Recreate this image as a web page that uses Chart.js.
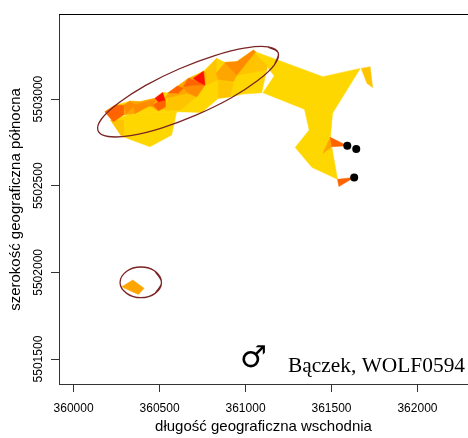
<!DOCTYPE html>
<html>
<head>
<meta charset="utf-8">
<script src="https://cdn.jsdelivr.net/npm/chart.js@4"></script>
<style>
html, body { margin: 0; padding: 0; background: #fff; overflow: hidden; }
#wrap { width: 468px; height: 438px; overflow: hidden; }
canvas { display: block; }
</style>
</head>
<body>
<!-- canvas a bit wider than the window: the x scale keeps 4px spare on the right -->
<div id="wrap"><canvas id="chart" width="472" height="438"></canvas></div>
<script>
const xTicks = [360000, 360500, 361000, 361500, 362000];
const yTicks = [5501500, 5502000, 5502500, 5503000];

// home range patches as [easting, northing]
const goldBody = [[361056,5503273],[361450,5503129],[361667,5503177],[361506,5502918],[361493,5502773],[361535,5502537],[361386,5502606],[361289,5502721],[361370,5502821],[361343,5502941],[361101,5503037],[361167,5503133],[361134,5503177]];
const goldBand = [[360182,5502927],[360241,5502965],[360328,5502988],[360386,5502985],[360473,5503004],[360518,5503038],[360551,5503036],[360603,5503071],[360667,5503119],[360755,5503161],[360832,5503235],[360881,5503211],[360949,5503215],[361046,5503283],[361123,5503196],[361123,5503167],[361094,5503036],[360987,5503029],[360910,5503013],[360842,5503004],[360745,5502923],[360599,5502927],[360347,5502917],[360289,5502908],[360231,5502869]];
const goldLobe = [[360215,5502879],[360347,5502917],[360599,5502927],[360570,5502792],[360444,5502725],[360279,5502786]];
const amberLeft = [[360215,5502879],[360289,5502879],[360289,5502786],[360279,5502786]];
const amberMid = [[360532,5502936],[360619,5502936],[360716,5503013],[360658,5503033],[360551,5503013]];
const amberCenter = [[360842,5503110],[360929,5503090],[360910,5503013],[360842,5503004]];
const amberTopLeft = [[360832,5503235],[360764,5503158],[360774,5503081],[360842,5503113],[360828,5503148]];
const amberTopRight = [[360949,5503138],[361046,5503273],[361123,5503196],[361123,5503167]];
const amberFarRight = [[361673,5503177],[361725,5503187],[361739,5503066],[361706,5503091]];
const orangeCenter = [[360828,5503148],[360881,5503211],[360949,5503215],[360949,5503138],[360929,5503100],[360842,5503113]];
const orangeStrip = [[360241,5502917],[360328,5502988],[360386,5502985],[360473,5503004],[360532,5503004],[360532,5502946],[360493,5502933],[360444,5502960],[360357,5502917],[360289,5502908]];
const orangeBand = [[360532,5503004],[360551,5503036],[360667,5503119],[360764,5503158],[360764,5503081],[360716,5503013],[360658,5503033]];
const orangeWedge = [[361493,5502779],[361502,5502725],[361450,5502687]];
const orangeSpot = [[360280,5501917],[360344,5501956],[360410,5501908],[360377,5501873],[360319,5501898]];
const deepTop = [[360881,5503211],[360949,5503215],[361046,5503283],[361059,5503273],[360949,5503138]];
const deepLeft = [[360289,5502965],[360328,5502988],[360357,5502965],[360308,5502917]];
const deepStrip = [[360347,5502965],[360473,5502998],[360464,5502960],[360435,5502960],[360357,5502917]];
const deepBand = [[360638,5503071],[360696,5503110],[360764,5503081],[360716,5503013],[360658,5503042]];
const hotLeft = [[360182,5502927],[360241,5502965],[360289,5502965],[360289,5502908],[360231,5502869]];
const hotStrip = [[360493,5502985],[360532,5502994],[360532,5502956],[360493,5502933],[360464,5502965]];
const hotBandA = [[360551,5503036],[360603,5503075],[360638,5503062],[360609,5503033]];
const hotBandB = [[360638,5503071],[360667,5503119],[360726,5503100],[360764,5503081],[360696,5503081]];
const hotWedgeA = [[361493,5502779],[361592,5502731],[361502,5502725]];
const hotWedgeB = [[361535,5502537],[361632,5502548],[361543,5502495]];
const redStrip = [[360473,5503004],[360518,5503038],[360532,5502994],[360493,5502985]];
const redBand = [[360696,5503119],[360755,5503161],[360764,5503081],[360726,5503100]];

const bigEllipse = [[361190,5503267],[361169,5503199],[361071,5503107],[360913,5503005],[360715,5502909],[360511,5502833],[360331,5502789],[360201,5502784],[360142,5502817],[360162,5502885],[360261,5502977],[360419,5503079],[360616,5503175],[360821,5503251],[361001,5503295],[361131,5503301]];
const smallEllipse = [[360511,5501942],[360474,5501879],[360391,5501854],[360309,5501879],[360270,5501942],[360309,5502006],[360391,5502031],[360474,5502006]];
const dots = [[361592,5502731],[361644,5502712],[361632,5502548]];

const gold = '#ffd700', amber = '#ffc400', orange = '#ffa500', deep = '#ff8c00', hot = '#ff6400', red = '#ff1000';
const maroon = '#7a2424';
const axisGrey = '#333';

// painted bottom to top
const patches = [
    [goldBody, gold], [goldBand, gold], [goldLobe, gold],
    [amberLeft, amber], [amberMid, amber], [amberCenter, amber], [amberTopLeft, amber], [amberTopRight, amber], [amberFarRight, amber],
    [orangeCenter, orange], [orangeStrip, orange], [orangeBand, orange], [orangeWedge, orange], [orangeSpot, orange],
    [deepTop, deep], [deepLeft, deep], [deepStrip, deep], [deepBand, deep],
    [hotLeft, hot], [hotStrip, hot], [hotBandA, hot], [hotBandB, hot], [hotWedgeA, hot], [hotWedgeB, hot],
    [redStrip, red], [redBand, red]
];

const toXY = p => ({ x: p[0], y: p[1] });

const datasets = patches.map(([pts, color], i) => ({
    data: pts.concat([pts[0]]).map(toXY),
    showLine: true,
    fill: 'shape',
    backgroundColor: color,
    borderColor: color,
    borderWidth: 0.5,
    pointRadius: 0,
    order: 100 - i
}));

// wrap the ends round so the curve closes without a kink
[bigEllipse, smallEllipse].forEach(pts => datasets.push({
    data: [pts[pts.length - 1], ...pts, pts[0], pts[1]].map(toXY),
    showLine: true,
    fill: false,
    borderColor: maroon,
    borderWidth: 1.3,
    tension: 0.4,
    pointRadius: 0,
    order: 2
}));

datasets.push({
    data: dots.map(toXY),
    showLine: false,
    pointRadius: 4,
    pointBackgroundColor: '#000',
    pointBorderWidth: 0,
    order: 1
});

const captions = {
    id: 'captions',
    afterDraw(chart) {
        const ctx = chart.ctx;
        const area = chart.chartArea;
        ctx.save();
        ctx.strokeStyle = '#000';
        ctx.lineWidth = 1;
        ctx.beginPath();
        ctx.moveTo(area.left, area.top - 0.5);
        ctx.lineTo(area.right, area.top - 0.5);
        ctx.stroke();
        ctx.fillStyle = '#000';
        ctx.textBaseline = 'alphabetic';
        ctx.textAlign = 'left';
        ctx.font = '21.4px "Liberation Serif"';
        ctx.fillText('Bączek, WOLF0594', 288, 372);
        ctx.font = 'bold 30px "DejaVu Sans"';
        ctx.fillText('♂', 240, 367);
        ctx.restore();
    }
};

new Chart(document.getElementById('chart').getContext('2d'), {
    type: 'scatter',
    data: { datasets },
    plugins: [captions],
    options: {
        responsive: false,
        animation: false,
        layout: { padding: { top: 15, left: 0, right: 0, bottom: 0 } },
        plugins: { legend: { display: false }, tooltip: { enabled: false } },
        scales: {
            x: {
                type: 'linear',
                min: 359915,
                max: 362294,
                afterBuildTicks: s => { s.ticks = xTicks.map(v => ({ value: v })); },
                afterFit: s => { s.height = 54; },
                grid: { drawOnChartArea: false, color: axisGrey, tickLength: 8, tickColor: axisGrey },
                border: { color: axisGrey, width: 1 },
                ticks: {
                    color: '#000',
                    maxRotation: 0,
                    font: { family: '"Liberation Sans"', size: 12 },
                    padding: 9,
                    callback: v => String(v)
                },
                title: {
                    display: true,
                    text: 'długość geograficzna wschodnia',
                    color: '#000',
                    font: { family: '"Liberation Sans"', size: 15 },
                    padding: { top: 3, bottom: 2 }
                }
            },
            y: {
                type: 'linear',
                min: 5501356,
                max: 5503485,
                afterBuildTicks: s => { s.ticks = yTicks.map(v => ({ value: v })); },
                afterFit: s => { s.width = 59; },
                grid: { drawOnChartArea: false, color: axisGrey, tickLength: 8, tickColor: axisGrey },
                border: { color: axisGrey, width: 1 },
                ticks: {
                    color: '#000',
                    minRotation: 90,
                    maxRotation: 90,
                    crossAlign: 'center',
                    font: { family: '"Liberation Sans"', size: 12 },
                    padding: -11,
                    callback: v => String(v)
                },
                title: {
                    display: true,
                    text: 'szerokość geograficzna północna',
                    color: '#000',
                    font: { family: '"Liberation Sans"', size: 15 },
                    padding: { top: 7, bottom: 0 }
                }
            }
        }
    }
});
</script>
</body>
</html>
